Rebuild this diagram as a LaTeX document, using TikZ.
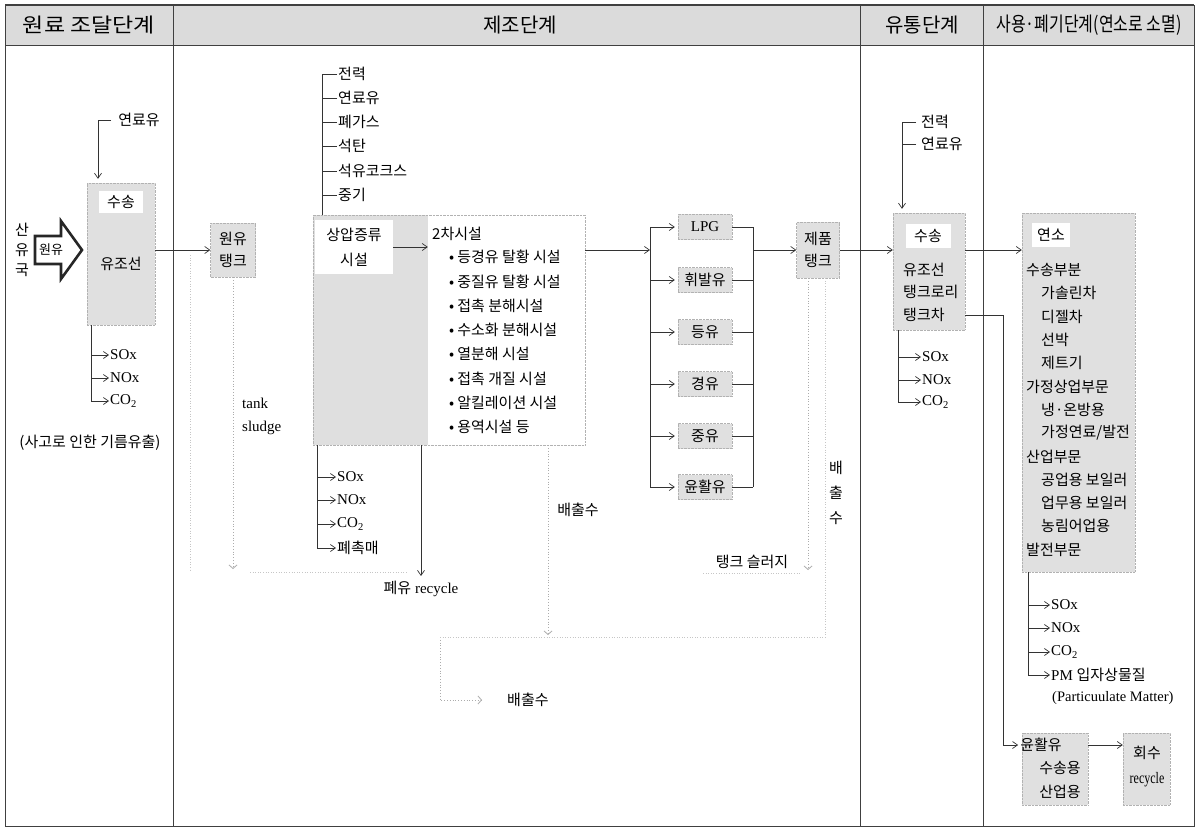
\documentclass[tikz,border=0pt]{standalone}
\usepackage{fontspec}
\setmainfont{Liberation Serif}
\newfontfamily\kr{Noto Sans CJK KR}
\usetikzlibrary{arrows.meta,calc}
\begin{document}
\begin{tikzpicture}[x=1pt,y=-1pt,
  kt/.style={font=\fontsize{15}{18}\kr, inner sep=1pt},
  lt/.style={font=\fontsize{15}{18}\rmfamily, inner sep=1pt},
  hd/.style={font=\fontsize{20}{23}\kr, inner sep=1pt},
  gbox/.style={draw=gray!60, densely dotted, fill=gray!24},
  arr/.style={-{Straight Barb[length=5pt,width=7pt]}, line width=0.7pt, draw=black!80},
  ln/.style={line width=0.7pt, draw=black!80},
  dl/.style={dotted, draw=gray!65, line width=0.8pt},
  dla/.style={dl, -{Straight Barb[length=3.5pt,width=8pt]}},
  fdl/.style={dotted, draw=gray!45, line width=0.6pt},
  frame/.style={line width=0.8pt, draw=black!75}]
\useasboundingbox (0,0) rectangle (1199,829);
\fill[white] (0,0) rectangle (1199,829);

% ---------- table ----------
\fill[gray!28] (5,5) rectangle (1194,46);
\draw[frame, line width=1.2pt] (5,5) -- (1194,5);
\draw[frame, line width=1pt] (5,46) -- (1194,46);
\draw[frame] (5,5) -- (5,826) -- (1194,826) -- (1194,5);
\foreach \x in {173,860,983} \draw[frame] (\x,5) -- (\x,826);

\node[hd] (h1) at (89,25) {\scalebox{1.15}[1]{원료 조달단계}};
\node[hd] (h2) at (520,25) {제조단계};
\node[hd] (h3) at (922,25) {유통단계};
\node[hd] (h4) at (1089,25) {\scalebox{0.8}[1]{사용·폐기단계(연소로 소멸)}};

% ---------- column 1 ----------
\node[kt] (fuelA) at (139,120) {연료유};
\node[gbox, minimum width=68, minimum height=142, inner sep=0] (ship) at (121,254) {};
\node[kt, fill=white, minimum width=44, minimum height=22] (shipL) at (121,202) {수송};
\node[kt] (shipT) at (121,264) {유조선};
\draw[arr, shorten >=4pt] ([xshift=-6]fuelA.west) -| ([xshift=-23]ship.north);

\draw[line width=2.6pt, black!85, line join=miter] (35,236) -- (61,236) -- (61,221) -- (82,250) -- (61,279) -- (61,264) -- (35,264) -- cycle;
\node[kt, font=\fontsize{13}{15}\kr] (crude) at (51,250) {원유};
\node[kt, align=center, font=\fontsize{15}{20}\kr] (src) at (22,250) {산\\유\\국};

\node[lt, anchor=west] (e1s) at (109,355) {SOx};
\node[lt, anchor=west] (e1n) at (109,378) {NOx};
\node[lt, anchor=west] (e1c) at (109,401) {CO\textsubscript{2}};
\foreach \n in {e1s,e1n,e1c} \draw[arr] ([xshift=-30]ship.south) |- (\n.west);
\node[kt] (spill) at (90,443) {(사고로 인한 기름유출)};

% ---------- column 2 ----------
\node[gbox, kt, align=center, minimum width=45, minimum height=54, font=\fontsize{15}{22}\kr] (tank) at (233,250) {원유\\탱크};
\draw[arr] (ship.east |- tank.west) -- (tank.west);
\node[lt, anchor=west, align=left, font=\fontsize{15}{23}\rmfamily] (ts) at (241,416) {tank\\sludge};
\coordinate (tsend) at (233,569);
\draw[dla] (tank.south) -- (tsend);
\draw[fdl] (190,255) -- (190,572);
\draw[fdl] (250,572) -- (408,572);

\foreach \t/\y/\n in {전력/74/u1, 연료유/98/u2, 폐가스/122/u3, 석탄/146/u4, 석유코크스/171/u5, 중기/195/u6}
  \node[kt, anchor=west] (\n) at (337,\y) {\t};

\node[fill=gray!25, minimum width=115, minimum height=230, inner sep=0] (dist) at (370.5,330) {};
\node[fill=white, minimum width=157, minimum height=230, inner sep=0] (sec) at (506.5,330) {};
\node[draw=gray!60, densely dotted, minimum width=272, minimum height=230, inner sep=0] (proc) at (449,330) {};
\coordinate (tb) at (322,0);
\draw[ln] (u1.west) -| (tb |- dist.north);
\foreach \n in {u2,u3,u4,u5,u6} \draw[ln] (\n.west) -- (tb |- \n.west);

\node[kt, fill=white, align=center, minimum width=78, minimum height=54, font=\fontsize{15}{25}\kr] (distL) at (354,247) {상압증류\\시설};
\draw[arr] (distL.east) -- (distL.east -| sec.west);

\node[kt, anchor=west] (s0) at (431,234) {2차시설};
\foreach \t/\y/\n in {등경유 탈황 시설/257/s1, 중질유 탈황 시설/282/s2, 접촉 분해시설/306/s3, 수소화 분해시설/330/s4, 열분해 시설/354/s5, 접촉 개질 시설/379/s6, 알킬레이션 시설/403/s7, 용역시설 등/427/s8}
  \node[kt, anchor=west] (\n) at (448,\y) {•\hspace{3pt}\t};

\node[lt, anchor=west] (d1) at (336,477) {SOx};
\node[lt, anchor=west] (d2) at (336,500) {NOx};
\node[lt, anchor=west] (d3) at (336,524) {CO\textsubscript{2}};
\node[kt, anchor=west] (d4) at (336,548) {폐촉매};
\foreach \n in {d1,d2,d3,d4} \draw[arr] ([xshift=5]dist.south west) |- (\n.west);

\node[lt] (wo) at (421,589) {{\kr 폐유} recycle};
\draw[arr, shorten >=4pt] (dist.south -| wo.north) -- (wo.north);

\coordinate (w1) at (548,635);
\node[kt] (ww1) at (578,510) {배출수};
\draw[dla] (proc.south -| w1) -- (w1);

\coordinate (w2) at (440,637);
\node[kt, anchor=west] (ww2) at (506,700) {배출수};
\draw[dla] (w2) |- ([xshift=-24]ww2.west);
\draw[fdl] (w2) -- (825,637);

% products
\node[gbox, kt, align=center, minimum width=43, minimum height=56, font=\fontsize{15}{22}\kr] (ptank) at (818,250) {제품\\탱크};
\coordinate (bL) at (650,0);
\coordinate (bR) at (753,0);
\tikzset{pbox/.style={gbox, minimum width=54, minimum height=25, inner sep=0}}
\node[pbox, lt] (p1) at (705,227) {LPG};
\node[pbox, kt] (p2) at (705,280) {휘발유};
\node[pbox, kt] (p3) at (705,332) {등유};
\node[pbox, kt] (p4) at (705,384) {경유};
\node[pbox, kt] (p5) at (705,436) {중유};
\node[pbox, kt] (p6) at (705,487) {윤활유};
\draw[arr] (sec.east |- ptank) -- (bL |- ptank);
\draw[ln] (bL |- p1) -- (bL |- p6);
\draw[ln] (bR |- p1) -- (bR |- p6);
\foreach \n in {p1,p2,p3,p4,p5,p6} {
  \draw[arr] (bL |- \n) -- ([xshift=-3]\n.west);
  \draw[ln] (\n.east) -- (bR |- \n);
}
\draw[arr] (bR |- ptank) -- (ptank.west);

\node[kt] (tsl) at (752,562) {탱크 슬러지};
\coordinate (w3) at (808,570);
\draw[dla] (ptank.south -| w3) -- (w3);
\draw[fdl] (703,573) -- (800,573);
\draw[fdl] ([xshift=7]ptank.south) -- (825,637);
\node[kt, align=center, font=\fontsize{15}{25}\kr] (vw) at (836,493) {배\\출\\수};

% ---------- column 3 ----------
\node[gbox, minimum width=72, minimum height=117, inner sep=0] (trans) at (929,271.5) {};
\node[kt, fill=white, minimum width=45, minimum height=24] (transL) at (928,236) {수송};
\node[kt, anchor=west] (t1) at (902,270) {유조선};
\node[kt, anchor=west] (t2) at (902,292) {탱크로리};
\node[kt, anchor=west] (t3) at (902,315) {탱크차};
\draw[arr] (ptank.east) -- (trans.west |- ptank);

\node[kt, anchor=west] (g1) at (920,122) {전력};
\node[kt, anchor=west] (g2) at (920,144) {연료유};
\coordinate (gb) at (902,0);
\draw[arr, shorten >=4pt] ([xshift=-4]g1.west) -| (gb |- trans.north);
\draw[ln] ([xshift=-4]g2.west) -- (gb |- g2);

\node[lt, anchor=west] (f1) at (921,357) {SOx};
\node[lt, anchor=west] (f2) at (921,380) {NOx};
\node[lt, anchor=west] (f3) at (921,402) {CO\textsubscript{2}};
\foreach \n in {f1,f2,f3} \draw[arr] ([xshift=6]trans.south west) |- (\n.west);

% ---------- column 4 ----------
\node[gbox, minimum width=113, minimum height=359, inner sep=0] (comb) at (1078.5,392.5) {};
\node[kt, fill=white, minimum width=38, minimum height=24] (combL) at (1051,235) {연소};
\draw[arr] (trans.east |- ptank) -- (comb.west |- ptank);
\foreach \t/\x [count=\i from 0] in {수송부분/1025, 가솔린차/1040, 디젤차/1040, 선박/1040, 제트기/1040, 가정상업부문/1025, 냉·온방용/1040, {가정연료/발전}/1040, 산업부문/1025, 공업용 보일러/1040, 업무용 보일러/1040, 농림어업용/1040, 발전부문/1025}
  \node[kt, anchor=west] (c\i) at (\x,{270+23.3*\i}) {\t};

\node[lt, anchor=west] (k1) at (1050,605) {SOx};
\node[lt, anchor=west] (k2) at (1050,628) {NOx};
\node[lt, anchor=west] (k3) at (1050,652) {CO\textsubscript{2}};
\node[lt, anchor=west] (k4) at (1050,675) {PM {\kr 입자상물질}};
\foreach \n in {k1,k2,k3,k4} \draw[arr] ([xshift=7]comb.south west) |- (\n.west);
\node[lt, anchor=west, font=\fontsize{14.5}{17}\rmfamily] (pmx) at (1051,698) {(Particuulate Matter)};

\node[gbox, minimum width=66, minimum height=72, inner sep=0] (lub) at (1055,769) {};
\node[kt] (lub1) at (1041,745) {윤활유};
\node[kt] (lub2) at (1060,768) {수송용};
\node[kt] (lub3) at (1060,792) {산업용};
\node[gbox, minimum width=47, minimum height=72, inner sep=0] (rec) at (1146.5,769) {};
\node[kt] (rec1) at (1147,753) {회수};
\node[lt, font=\fontsize{16}{18}\rmfamily] (rec2) at (1147,780) {\scalebox{0.75}[1]{recycle}};
\draw[arr] (lub.east |- lub1) -- (rec.west |- lub1);

\coordinate (lb) at (1003,745);
\draw[arr] (trans.east |- t3) -| (lb) -- ([xshift=-1]lub1.west);
\end{tikzpicture}
\end{document}
